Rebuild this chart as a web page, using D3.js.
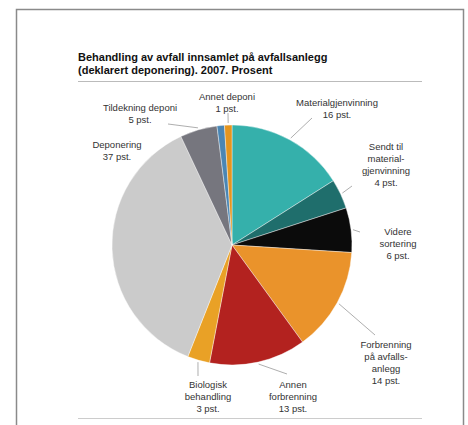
<!DOCTYPE html>
<html>
<head>
<meta charset="utf-8">
<style type="text/css">
    body { margin: 0; background: #fff; }
    text { font-family: "Liberation Sans", Arial, sans-serif; }
    .title { font-size: 11px; font-weight: bold; fill: #111; }
    .lbl { font-size: 9.5px; fill: #333; text-anchor: middle; }
    .leader { stroke: #999; stroke-width: 0.8; fill: none; }
</style>
</head>
<body>
<svg id="chart" width="468" height="425"></svg>
<script src="https://cdn.jsdelivr.net/npm/d3@7"></script>
<script type="text/javascript">
// slices clockwise from 12 o'clock
var categories = ["Materialgjenvinning", "Sendt til materialgjenvinning", "Videre sortering",
    "Forbrenning på avfallsanlegg", "Annen forbrenning", "Biologisk behandling",
    "Deponering", "Tildekning deponi", "Annet", "Annet deponi"];
var values = [16, 4, 6, 14, 13, 3, 37, 5, 1, 1];
var labelLines = [
    ["Materialgjenvinning", "16 pst."],
    ["Sendt til", "material-", "gjenvinning", "4 pst."],
    ["Videre", "sortering", "6 pst."],
    ["Forbrenning", "på avfalls-", "anlegg", "14 pst."],
    ["Annen", "forbrenning", "13 pst."],
    ["Biologisk", "behandling", "3 pst."],
    ["Deponering", "37 pst."],
    ["Tildekning deponi", "5 pst."],
    null,
    ["Annet deponi", "1 pst."]
];
var colors = ["#35b0ab", "#1f6e6c", "#0b0b0b", "#ea932b", "#b3221f", "#e9a126",
    "#cbcbcb", "#76767e", "#4a86b4", "#e4951f"];
var titleLines = ["Behandling av avfall innsamlet på avfallsanlegg",
    "(deklarert deponering). 2007. Prosent"];

// label placement (text centre of first line) and leader end point
var labelAt = [[337, 103], [386, 147], [398, 232], [386, 345], [293, 385], [208, 385],
    [117, 145], [140, 108], null, [227, 97]];
var leaderTo = [[312, 118], [352, 186], [360, 232], [375, 335], [287, 374], [198, 376],
    null, [168, 124], null, [228, 113]];

var cx = 232, cy = 245, radius = 120;

var svg = d3.select("#chart");

// outer frame
svg.append("rect")
    .attr("x", 16.5).attr("y", 9.5)
    .attr("width", 447).attr("height", 430)
    .attr("fill", "none")
    .attr("stroke", "#8a8a8a")
    .attr("stroke-width", 1.5);

// title
svg.selectAll("text.title")
    .data(titleLines)
    .enter()
    .append("text")
    .attr("class", "title")
    .attr("x", 78)
    .attr("y", function(d, i) { return 61 + i * 13; })
    .text(function(d) { return d; });

svg.append("line")
    .attr("x1", 78).attr("x2", 422)
    .attr("y1", 81.5).attr("y2", 81.5)
    .attr("stroke", "#bbb").attr("stroke-width", 1);

svg.append("line")
    .attr("x1", 78).attr("x2", 422)
    .attr("y1", 418.5).attr("y2", 418.5)
    .attr("stroke", "#ccc").attr("stroke-width", 1);

var pie = d3.pie().sort(null).value(function(d) { return d; });
var arcs = pie(values);
var arc = d3.arc().innerRadius(0).outerRadius(radius);

var g = svg.append("g").attr("transform", "translate(" + cx + "," + cy + ")");

g.selectAll("path")
    .data(arcs)
    .enter()
    .append("path")
    .attr("d", arc)
    .attr("fill", function(d, i) { return colors[i]; })
    .attr("stroke", "#fff")
    .attr("stroke-width", 0.4);

// leader lines from slice edge to label
arcs.forEach(function(d, i) {
    if (!leaderTo[i]) return;
    var a = (d.startAngle + d.endAngle) / 2;
    var x0 = cx + (radius + 2) * Math.sin(a);
    var y0 = cy - (radius + 2) * Math.cos(a);
    svg.append("line")
        .attr("class", "leader")
        .attr("x1", x0).attr("y1", y0)
        .attr("x2", leaderTo[i][0]).attr("y2", leaderTo[i][1]);
});

// labels
labelLines.forEach(function(lines, i) {
    if (!lines) return;
    var t = svg.append("text")
        .attr("class", "lbl")
        .attr("x", labelAt[i][0])
        .attr("y", labelAt[i][1] + 3);
    lines.forEach(function(s, j) {
        t.append("tspan")
            .attr("x", labelAt[i][0])
            .attr("dy", j === 0 ? 0 : 12)
            .text(s);
    });
});
</script>
</body>
</html>
